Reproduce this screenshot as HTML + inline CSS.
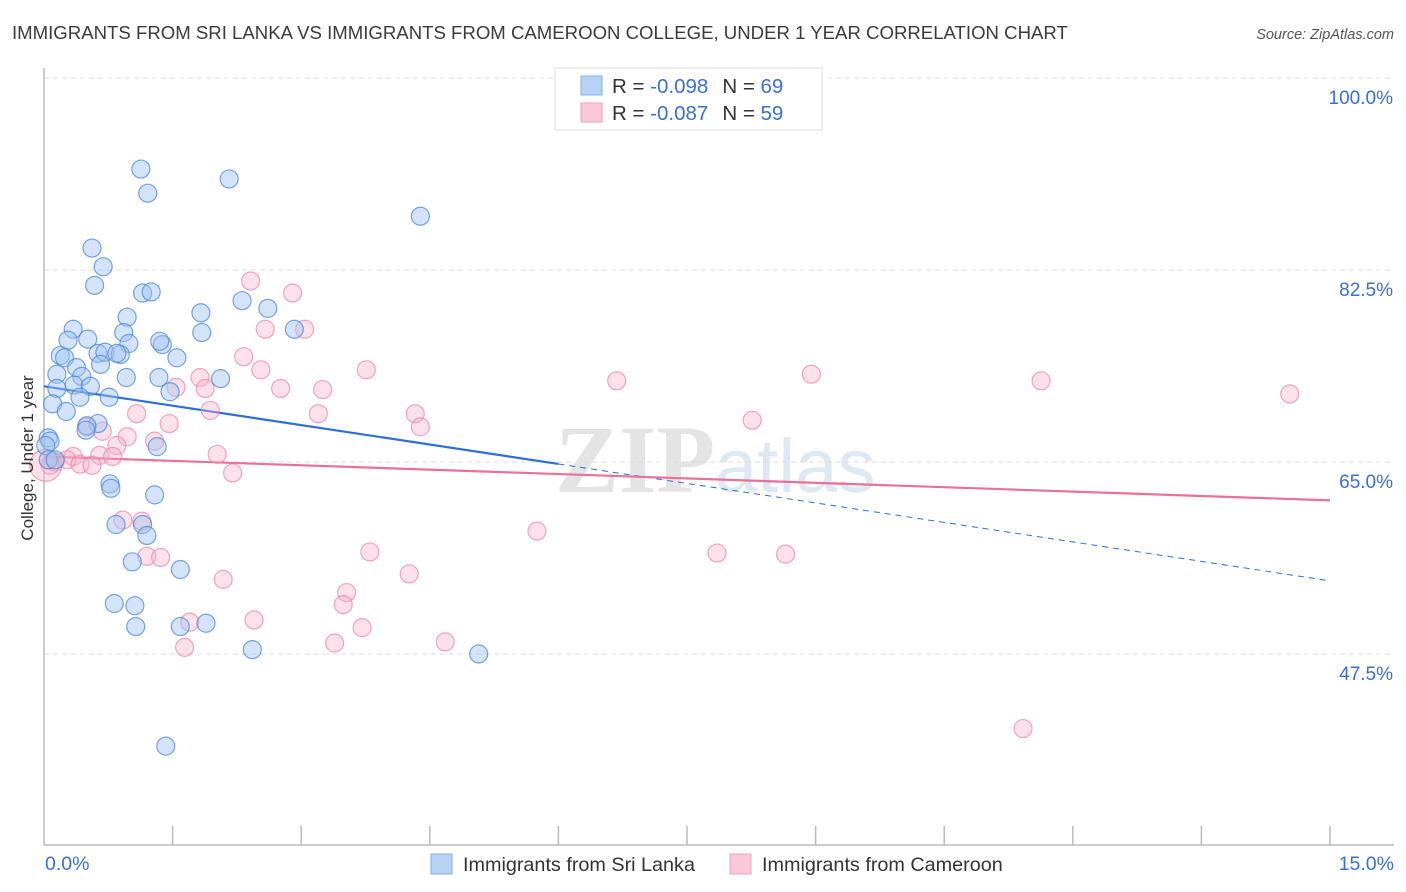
<!DOCTYPE html>
<html><head><meta charset="utf-8"><style>
body{margin:0;background:#fff;font-family:"Liberation Sans",sans-serif}
svg{display:block}
</style></head><body>
<svg id="chart" width="1406" height="892" viewBox="0 0 1406 892" xmlns="http://www.w3.org/2000/svg">
<text x="12" y="39" font-size="18.6" fill="#3a3a3a">IMMIGRANTS FROM SRI LANKA VS IMMIGRANTS FROM CAMEROON COLLEGE, UNDER 1 YEAR CORRELATION CHART</text>
<text x="1394" y="39" font-size="14.5" fill="#555" text-anchor="end" font-style="italic">Source: ZipAtlas.com</text>
<g>
<text x="555" y="492" font-size="96" fill="#e4e4e4" font-family="Liberation Serif,serif" font-weight="bold">ZIP</text>
<text x="715" y="492" font-size="76" fill="#dde8f4">atlas</text>
</g>
<g id="grid"></g>
<g id="axes"></g>
<g id="lines"></g>
<g id="pts"></g>
<text transform="translate(33,458) rotate(-90)" font-size="17" fill="#333" text-anchor="middle">College, Under 1 year</text>
<g>
<rect x="555" y="68" width="267" height="62" fill="#fff" stroke="#ddd"/>
<rect x="581" y="76" width="21" height="19" fill="#b6d2f5" stroke="#86b0e6"/>
<rect x="581" y="103" width="21" height="19" fill="#fac8d7" stroke="#f0a2bb"/>
<text x="612" y="93" font-size="20.5" fill="#333">R = <tspan fill="#3b6fd0">-0.098</tspan><tspan dx="14">N = </tspan><tspan fill="#3b6fd0">69</tspan></text>
<text x="612" y="120" font-size="20.5" fill="#333">R = <tspan fill="#3b6fd0">-0.087</tspan><tspan dx="14">N = </tspan><tspan fill="#3b6fd0">59</tspan></text>
</g>
<g>
<rect x="431" y="854" width="21" height="20" fill="#b6d2f5" stroke="#86b0e6"/>
<text x="463" y="871" font-size="19.8" fill="#333">Immigrants from Sri Lanka</text>
<rect x="730" y="854" width="21" height="20" fill="#fac8d7" stroke="#f0a2bb"/>
<text x="762" y="871" font-size="19.8" fill="#333">Immigrants from Cameroon</text>
</g>
</svg>
<script>
const blueX=[1.13,1.21,2.16,4.39,0.56,0.69,0.59,1.15,1.25,2.31,2.61,1.83,0.97,0.34,2.92,0.93,0.51,0.28,0.99,1.38,1.84,1.35,1.55,0.19,0.24,0.63,0.71,0.89,0.85,0.66,0.38,0.15,0.44,0.96,1.34,2.06,0.35,0.15,0.54,1.47,0.76,0.42,0.10,0.26,0.63,0.50,0.05,0.07,1.32,0.77,0.78,1.29,0.84,1.15,1.20,1.03,1.59,0.82,1.06,1.07,1.59,1.89,2.43,5.07,1.42,0.02,0.05,0.13,0.49];
const blueY=[91.7,89.5,90.8,87.4,84.5,82.8,81.1,80.4,80.5,79.7,79.0,78.6,78.2,77.1,77.1,76.8,76.2,76.1,75.8,75.7,76.8,76.0,74.5,74.7,74.5,74.9,75.0,74.8,74.9,73.9,73.6,73.0,72.8,72.7,72.7,72.6,72.0,71.7,71.9,71.4,70.9,70.9,70.3,69.6,68.5,68.3,67.2,66.9,66.4,63.0,62.6,62.0,59.3,59.3,58.3,55.9,55.2,52.1,51.9,50.0,50.0,50.3,47.9,47.5,39.1,66.5,65.2,65.2,67.9];
const pinkX=[2.41,2.90,2.58,3.04,2.33,2.53,1.82,1.54,1.88,2.76,3.25,3.76,6.68,8.95,11.63,14.53,1.08,1.94,3.20,4.33,4.39,8.26,1.46,0.68,0.97,0.50,1.29,0.85,2.02,0.65,0.34,0.80,0.13,0.27,0.07,0.42,0.56,2.20,0.92,1.14,1.20,1.36,5.75,3.80,7.85,8.65,4.26,2.09,3.53,3.49,2.45,1.70,3.71,1.64,3.39,4.68,11.42,0.02];
const pinkY=[81.5,80.4,77.1,77.1,74.6,73.4,72.7,71.8,71.7,71.7,71.6,73.4,72.4,73.0,72.4,71.2,69.4,69.7,69.4,69.4,68.2,68.8,68.5,67.8,67.3,68.2,66.9,66.5,65.7,65.6,65.5,65.5,65.0,65.2,64.7,64.8,64.7,64.0,59.7,59.6,56.4,56.3,58.7,56.8,56.7,56.6,54.8,54.3,53.1,52.0,50.6,50.4,49.9,48.1,48.5,48.6,40.7,64.7];
const blueTrend=[71.9,54.2];
const pinkTrend=[65.5,61.5];
const yTicks=[100,82.5,65,47.5];
const yTickLabels=["100.0%","82.5%","65.0%","47.5%"];
const xTickLabels=["0.0%","15.0%"];
const NS="http://www.w3.org/2000/svg";
const X=v=>44+v/15*1286;
const Y=v=>78+(100-v)*10.971;
function mk(tag,attrs,parent){const e=document.createElementNS(NS,tag);for(const k in attrs)e.setAttribute(k,attrs[k]);parent.appendChild(e);return e;}
const grid=document.getElementById('grid'),axes=document.getElementById('axes'),lines=document.getElementById('lines'),pts=document.getElementById('pts');
yTicks.forEach((t,i)=>{
 const l=mk('line',{x1:44,x2:1394,y1:Y(t),y2:Y(t),stroke:'#ddd','stroke-dasharray':'5,4'},grid);
 
 
 const tx=mk('text',{x:1393,y:Y(t)+26,'font-size':19,fill:'#3b6fd0','text-anchor':'end'},axes);
 tx.textContent=yTickLabels[i];
 
 
});
let a=mk('line',{x1:44,x2:44,y1:68,y2:845,stroke:'#bbb','stroke-width':1.5},axes);


a=mk('line',{x1:44,x2:1394,y1:845,y2:845,stroke:'#bbb','stroke-width':1.5},axes);


for(let k=1;k<=10;k++){
 const t=mk('line',{x1:X(k*1.5),x2:X(k*1.5),y1:826,y2:845,stroke:'#bbb','stroke-width':1.5},axes);
 
 
}
[[0,'start',45],[15,'end',1394]].forEach((d,i)=>{
 const tx=mk('text',{x:d[2],y:870,'font-size':19.5,fill:'#3b6fd0','text-anchor':d[1]},axes);
 tx.textContent=xTickLabels[i];
 
 
});
function dot(x,y,r,fill,stroke,name){
 const c=mk('circle',{cx:X(x),cy:Y(y),r:r,fill:fill,stroke:stroke,'stroke-width':1.2},pts);
 
 
}
pinkX.forEach((x,i)=>dot(x,pinkY[i],i===pinkX.length-1?16:9,'rgba(246,176,200,0.38)','rgba(232,130,165,0.7)','cameroon-point'));
blueX.forEach((x,i)=>dot(x,blueY[i],9,'rgba(160,196,240,0.45)','rgba(70,130,210,0.72)','sri-lanka-point'));
const bMid=6.0;
const bMidY=blueTrend[0]+(blueTrend[1]-blueTrend[0])*bMid/15;
let ln=mk('line',{x1:X(0),y1:Y(blueTrend[0]),x2:X(bMid),y2:Y(bMidY),stroke:'#2c6fd6','stroke-width':2.2},lines);


ln=mk('line',{x1:X(bMid),y1:Y(bMidY),x2:X(14.97),y2:Y(blueTrend[1]),stroke:'#2c6fd6','stroke-width':1,'stroke-dasharray':'6,5'},lines);


ln=mk('line',{x1:X(0),y1:Y(pinkTrend[0]),x2:X(15),y2:Y(pinkTrend[1]),stroke:'#e8709a','stroke-width':2.2},lines);


</script>
</body></html>
